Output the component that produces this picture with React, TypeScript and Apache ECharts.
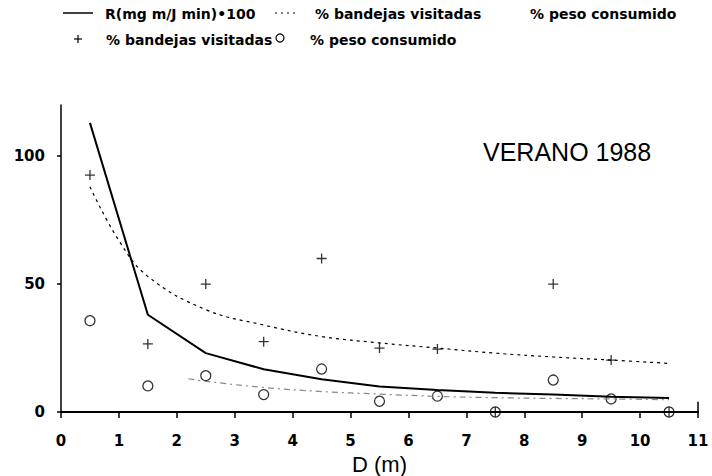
import React, { useEffect, useRef } from "react";
import * as echarts from "echarts";

// Distance classes (m)
const xPositions = [0.5, 1.5, 2.5, 3.5, 4.5, 5.5, 6.5, 7.5, 8.5, 9.5, 10.5];
// R (mg m/J min)*100
const rValues = [113, 38, 23, 16.7, 12.8, 10, 8.6, 7.5, 6.8, 6, 5.5];
// fitted curve % bandejas visitadas
const bandejasFitX = [0.5, 1, 1.5, 2.5, 3.5, 4.5, 5.5, 6.5, 7.5, 8.5, 9.5, 10.5];
const bandejasFitY = [88, 67, 53, 40, 34, 29.5, 27, 25, 23, 21.5, 20.3, 19];
// fitted curve % peso consumido
const pesoFitX = [2.2, 2.5, 3.5, 4.5, 5.5, 6.5, 7.5, 8.5, 9.5, 10.5];
const pesoFitY = [13, 12, 9.6, 8, 7, 6.1, 5.6, 5.3, 5.1, 4.8];
// observed values
const bandejasObs = [92.6, 26.6, 50, 27.5, 60, 25, 24.6, 0, 50, 20.3, 0];
const pesoObs = [35.7, 10.2, 14.2, 6.8, 16.8, 4.2, 6.2, 0, 12.5, 5.1, 0];

const xTicks = [0, 1, 2, 3, 4, 5, 6, 7, 8, 9, 10, 11];
const yTicks = [0, 50, 100];

const legendRow1 = ["R(mg m/J min)\u2022100", "% bandejas visitadas", "% peso consumido"];
const legendRow2 = ["% bandejas visitadas", "% peso consumido"];
const titleText = "VERANO 1988";
const xName = "D (m)";

const PLUS = "path://M0,5 L10,5 M5,0 L5,10";
const LEGEND_FONT = "bold 14px 'DejaVu Sans'";

export default function App() {
  const ref = useRef<HTMLDivElement>(null);
  useEffect(() => {
    if (!ref.current) return;
    const chart = echarts.init(ref.current, null, { renderer: "svg" });
    const pair = (xs: number[], ys: number[]) => xs.map((x, i) => [x, ys[i]]);
    const legendText = (x: number, y: number, t: string) => ({
      type: "text",
      x,
      y,
      style: { text: t, font: LEGEND_FONT, fill: "#000", verticalAlign: "middle", align: "left" },
    });
    chart.setOption({
      animation: false,
      backgroundColor: "#fff",
      grid: { left: 61, right: 14, top: 105, bottom: 64, containLabel: false, outerBoundsMode: "none" },
      xAxis: {
        type: "value",
        min: 0,
        max: 11,
        interval: 1,
        name: xName,
        nameLocation: "middle",
        nameGap: 41,
        nameMoveOverlap: false,
        nameTextStyle: { fontFamily: "Liberation Sans", fontSize: 22, color: "#000" },
        splitLine: { show: false },
        axisLine: { lineStyle: { color: "#000", width: 2 } },
        axisTick: { show: true, inside: false, length: 6, lineStyle: { color: "#000", width: 1.5 }, customValues: xTicks },
        axisLabel: {
          customValues: xTicks,
          margin: 21,
          fontFamily: "DejaVu Sans",
          fontWeight: "bold",
          fontSize: 15,
          color: "#000",
        },
      },
      yAxis: {
        type: "value",
        min: 0,
        max: 120,
        splitLine: { show: false },
        axisLine: { show: true, lineStyle: { color: "#000", width: 1.5 } },
        axisTick: { show: true, length: 4, lineStyle: { color: "#000", width: 1.5 }, customValues: yTicks },
        axisLabel: {
          customValues: yTicks,
          margin: 16,
          fontFamily: "DejaVu Sans",
          fontWeight: "bold",
          fontSize: 15,
          color: "#000",
        },
      },
      graphic: [
        { type: "line", shape: { x1: 63, y1: 13, x2: 93, y2: 13 }, style: { stroke: "#000", lineWidth: 1.5 } },
        legendText(105, 14, legendRow1[0]),
        { type: "line", shape: { x1: 275, y1: 13, x2: 298, y2: 13 }, style: { stroke: "#000", lineWidth: 1, lineDash: [2, 4] } },
        legendText(315, 14, legendRow1[1]),
        legendText(530, 14, legendRow1[2]),
        { type: "line", shape: { x1: 74, y1: 39, x2: 82, y2: 39 }, style: { stroke: "#000", lineWidth: 1.2 } },
        { type: "line", shape: { x1: 78, y1: 35, x2: 78, y2: 43 }, style: { stroke: "#000", lineWidth: 1.2 } },
        legendText(106, 40, legendRow2[0]),
        { type: "circle", shape: { cx: 280, cy: 38, r: 4 }, style: { stroke: "#000", fill: "none", lineWidth: 1.2 } },
        legendText(310, 40, legendRow2[1]),
        {
          type: "text",
          x: 483,
          y: 152,
          style: { text: titleText, font: "25px 'Liberation Sans'", fill: "#000", verticalAlign: "middle", align: "left" },
        },
      ],
      series: [
        {
          name: legendRow1[0],
          type: "line",
          data: pair(xPositions, rValues),
          symbol: "none",
          lineStyle: { color: "#000", width: 2 },
          markLine: {
            silent: true,
            symbol: "none",
            label: { show: false },
            lineStyle: { color: "#000", width: 1.5, type: "solid" },
            data: [[{ coord: [11, 0] }, { coord: [11, 4] }]],
          },
        },
        {
          name: legendRow1[1],
          type: "line",
          data: pair(bandejasFitX, bandejasFitY),
          symbol: "none",
          smooth: 0.4,
          lineStyle: { color: "#000", width: 1.2, type: [3, 4] },
        },
        {
          name: legendRow1[2],
          type: "line",
          data: pair(pesoFitX, pesoFitY),
          symbol: "none",
          smooth: 0.4,
          lineStyle: { color: "#888", width: 1.2, type: [6, 4, 2, 4] },
        },
        {
          name: legendRow2[0] + " (obs)",
          type: "scatter",
          data: pair(xPositions, bandejasObs),
          symbol: PLUS,
          symbolSize: 10,
          itemStyle: { color: "none", borderColor: "#000", borderWidth: 1.3 },
        },
        {
          name: legendRow2[1] + " (obs)",
          type: "scatter",
          data: pair(xPositions, pesoObs),
          symbol: "circle",
          symbolSize: 10,
          itemStyle: { color: "none", borderColor: "#000", borderWidth: 1.3 },
        },
      ],
    });
    return () => chart.dispose();
  }, []);
  return <div ref={ref} style={{ position: "fixed", left: 0, top: 0, width: 712, height: 476 }} />;
}
